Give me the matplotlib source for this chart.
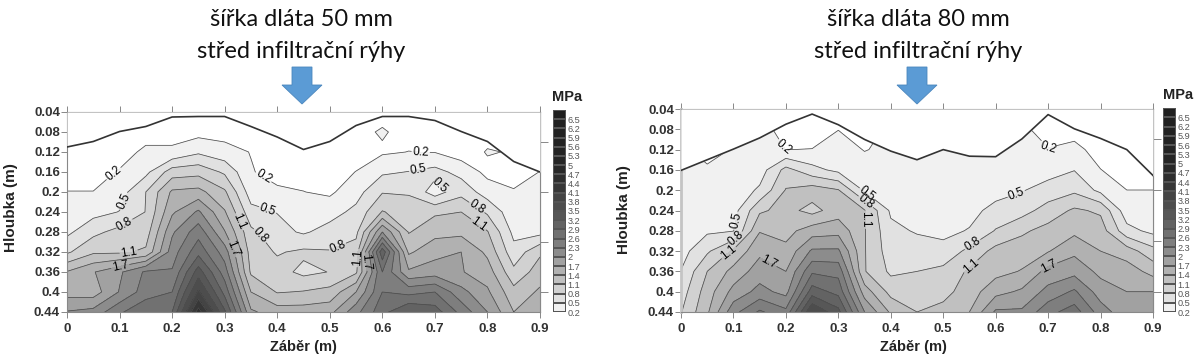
import numpy as np
import matplotlib
matplotlib.use('Agg')
import matplotlib.pyplot as plt
from matplotlib.colors import ListedColormap, BoundaryNorm
from matplotlib.patches import Polygon

# x = zaber (m), y = hloubka (m)
zaber = [0, 0.05, 0.1, 0.15, 0.2, 0.25, 0.3, 0.35, 0.4, 0.45, 0.5, 0.55, 0.6, 0.65, 0.7, 0.75, 0.8, 0.85, 0.9]
hloubka = [0.04, 0.08, 0.12, 0.16, 0.2, 0.24, 0.28, 0.32, 0.36, 0.4, 0.44]
x_ticks = [0, 0.1, 0.2, 0.3, 0.4, 0.5, 0.6, 0.7, 0.8, 0.9]
right_ticks = [0.1, 0.2, 0.3, 0.4]
level_values = [0.2, 0.5, 0.8, 1.1, 1.4, 1.7, 2, 2.3, 2.6, 2.9, 3.2, 3.5, 3.8, 4.1, 4.4, 4.7, 5, 5.3, 5.6, 5.9, 6.2, 6.5]
level_greys = ['#f1f1f1', '#e1e1e1', '#d1d1d1', '#c0c0c0', '#b1b1b1', '#a1a1a1', '#8c8c8c', '#7e7e7e', '#717171', '#636363',
               '#575757', '#4d4d4d', '#444444', '#373737', '#2e2e2e', '#282828', '#252525', '#232323', '#222222', '#212121', '#202020', '#1f1f1f']

# surface line
surface_50 = [0.11, 0.099, 0.079, 0.069, 0.05, 0.049, 0.049, 0.069, 0.09, 0.115, 0.099, 0.067, 0.049, 0.049, 0.057, 0.079, 0.099, 0.139, 0.16]
surface_80 = [0.161, 0.14, 0.119, 0.097, 0.07, 0.05, 0.071, 0.1, 0.123, 0.14, 0.12, 0.133, 0.134, 0.099, 0.051, 0.079, 0.098, 0.12, 0.171]

# one list per column of zaber, top to bottom
mpa_50 = [
    [.1, .1, .1, .1, .205, .32, .43, .75, 1.42, 1.58, 2.02],
    [.1, .1, .1, .1, .205, .4, .72, 1.05, 1.68, 1.55, 2.1],
    [.1, .1, .1, .22, .36, .51, .9, 1.05, 1.95, 2.02, 2.55],
    [.1, .1, .25, .42, .8, .81, .95, 1.15, 2.35, 2.45, 2.85],
    [.1, .1, .25, .95, 1.45, 1.65, 1.95, 2.15, 2.33, 2.6, 2.9],
    [.1, .1, .45, 1.0, 1.5, 2.05, 2.48, 2.8, 3.35, 3.85, 4.55],
    [.1, .1, .3, .75, 1.15, 1.43, 1.72, 2.15, 2.45, 2.8, 3.25],
    [.1, .1, .19, .22, .35, .6, .87, .97, 1.05, 1.4, 1.75],
    [.1, .1, .1, .1, .25, .49, .6, .77, .92, 1.08, 1.55],
    [.1, .1, .1, .1, .205, .3, .46, .86, .72, 1.12, 1.55],
    [.1, .1, .1, .1, .15, .38, .62, .82, .81, 1.2, 1.6],
    [.1, .12, .1, .205, .38, .58, .72, .95, 1.05, 1.7, 2.2],
    [.1, .23, .16, .45, .78, 1.12, 2.0, 3.1, 2.6, 2.6, 2.8],
    [.1, .1, .205, .51, .77, .95, 1.08, 1.35, 1.75, 2.5, 3.2],
    [.1, .1, .19, .6, .35, 1.05, 1.3, 1.6, 1.85, 2.6, 3.05],
    [.1, .1, .05, .4, .7, 1.1, 1.32, 1.7, 1.72, 2.1, 2.5],
    [.1, .1, .22, .12, .35, .75, 1.12, 1.33, 1.55, 1.75, 2.0],
    [.1, .1, .18, .1, .22, .3, .42, .6, .88, 1.2, 1.4],
    [.1, .1, .1, .205, .22, .28, .4, 1.05, 1.25, 1.45, 1.55],
]
mpa_80 = [
    [.25, .25, .25, .22, .24, .28, .32, .38, .51, .65, .78],
    [.1, .1, .1, .24, .3, .35, .45, .75, 1.1, 1.25, 1.35],
    [.25, .25, .22, .24, .3, .38, .49, 1.15, 1.5, 1.8, 2.2],
    [.25, .25, .3, .35, .55, 1.05, 1.38, 1.63, 1.85, 2.1, 2.65],
    [.1, .15, .198, .9, 1.12, 1.2, 1.3, 1.48, 1.7, 1.9, 2.38],
    [.1, .1, .205, .6, 1.25, 1.0, 1.55, 2.05, 2.55, 3.05, 3.8],
    [.1, .195, .3, .42, 1.12, 1.25, 1.6, 2.05, 2.5, 2.8, 3.3],
    [.1, .1, .19, .3, .45, 1.12, 1.12, 1.12, 1.12, 1.55, 2.0],
    [.25, .25, .25, .25, .3, .45, .58, .64, .74, 1.0, 1.35],
    [.25, .25, .25, .22, .28, .35, .47, .65, .8, .95, 1.1],
    [.25, .25, .25, .25, .28, .35, .42, .6, .88, 1.0, 1.2],
    [.25, .25, .25, .25, .3, .4, .52, .88, 1.15, 1.25, 1.4],
    [.25, .25, .25, .25, .38, .6, .82, 1.2, 1.3, 1.6, 2.05],
    [.25, .25, .22, .33, .48, .68, 1.05, 1.25, 1.42, 1.75, 2.05],
    [.1, .1, .21, .38, .62, .93, 1.2, 1.38, 1.8, 2.1, 2.5],
    [.1, .1, .27, .49, .74, 1.15, 1.33, 1.63, 1.9, 2.35, 2.75],
    [.1, .1, .1, .205, .42, 1.05, 1.25, 1.4, 1.62, 1.85, 2.15],
    [.1, .1, .1, .1, .201, .32, .6, 1.25, 1.55, 1.7, 1.8],
    [.1, .1, .1, .1, .201, .3, .42, .9, 1.3, 1.7, 1.75],
]

labels_50 = {
    0.2: [(.092, .167), (.37, .177), (.673, .12)],
    0.5: [(.109, .219), (.383, .232), (.669, .16), (.714, .182)],
    0.8: [(.109, .263), (.359, .294), (.517, .315), (.776, .237)],
    1.1: [(.118, .324), (.329, .259), (.555, .332), (.785, .262)],
    1.7: [(.101, .347), (.307, .317), (.572, .339)],
}
labels_80 = {
    0.2: [(.191, .118), (.698, .117)],
    0.5: [(.104, .26), (.353, .209), (.641, .212)],
    0.8: [(.101, .291), (.353, .222), (.556, .307)],
    1.1: [(.092, .324), (.351, .258), (.55, .347)],
    1.7: [(.169, .337), (.7, .348)],
}

W, H = 1200, 359
plt.rcParams['font.family'] = ['Liberation Sans', 'DejaVu Sans']
fig = plt.figure(figsize=(W / 100, H / 100), dpi=100)


def px_axes(x0, y0, x1, y1):
    return fig.add_axes([x0 / W, 1 - y1 / H, (x1 - x0) / W, (y1 - y0) / H])


levels = [0] + level_values + [7]
cmap = ListedColormap(['#ffffff'] + level_greys)
norm = BoundaryNorm(levels, cmap.N)


def panel(box, cbar_box, mpa, surface, labels, left_grey):
    ax = px_axes(*box)
    z = np.array(mpa).T
    # limits first: clabel works out the label angles from them
    ax.set_xlim(0, 0.9)
    ax.set_ylim(0.44, 0.04)
    ax.contourf(zaber, hloubka, z, levels=levels, cmap=cmap, norm=norm)
    plain = [v for v in level_values if v not in labels]
    ax.contour(zaber, hloubka, z, levels=plain, colors='#4d4d4d', linewidths=0.55)
    for lev, pos in labels.items():
        # one contour set per labelled level, so the label lands on the right line
        cs = ax.contour(zaber, hloubka, z, levels=[lev], colors='#4d4d4d', linewidths=0.55)
        ax.clabel(cs, manual=pos, fmt='%g', fontsize=8.5, inline=True, inline_spacing=1, colors='black')
    ax.fill_between(zaber, 0.04, surface, color='white', zorder=3, lw=0)
    ax.plot(zaber, surface, color='#333333', lw=1.2, zorder=4)
    ax.set_xlim(0, 0.9)
    ax.set_ylim(0.44, 0.04)
    ax.set_xticks(x_ticks)
    ax.set_xticklabels(['%g' % v for v in x_ticks], fontweight='bold', fontsize=9.5, color='#333333')
    ax.set_yticks(hloubka)
    ax.set_yticklabels(['%g' % v for v in hloubka], fontweight='bold', fontsize=9.5, color='#333333')
    ax.tick_params(axis='x', top=True, length=4, width=0.7, color='#888888', pad=4)
    ax.tick_params(axis='y', length=4, width=0.7, color='#888888', pad=1)
    sec = ax.secondary_yaxis('right')
    sec.set_yticks(right_ticks)
    sec.set_yticklabels([])
    sec.tick_params(length=6, width=0.7, color='#888888')
    sec.spines['right'].set_color('#888888')
    for s in ax.spines.values():
        s.set_color('#888888')
        s.set_linewidth(0.8)
    if left_grey:
        ax.spines['left'].set_color('#c4c4c4')
        ax.spines['left'].set_linewidth(2)
    ax.set_zorder(2)

    cax = px_axes(*cbar_box)
    edges = level_values + [6.8]
    cax.pcolormesh([0, 1], edges, np.array(level_values).reshape(-1, 1), cmap=ListedColormap(level_greys),
                   edgecolors='#555555', linewidth=0.25)
    cax.set_xlim(0, 1)
    cax.set_ylim(0.2, 6.8)
    cax.set_xticks([])
    cax.yaxis.tick_right()
    cax.set_yticks(level_values)
    cax.set_yticklabels(['%g' % v for v in level_values], fontsize=6.6, color='#555555')
    cax.tick_params(axis='y', length=0, pad=1)
    for s in cax.spines.values():
        s.set_visible(False)


panel((67, 112, 540, 312), (553, 110, 566, 312), mpa_50, surface_50, labels_50, False)
panel((681, 109, 1153, 312), (1163, 108, 1176, 312), mpa_80, surface_80, labels_80, True)

# texts and arrows, in pixels
over = fig.add_axes([0, 0, 1, 1], zorder=5)
over.set_xlim(0, W)
over.set_ylim(H, 0)
over.axis('off')
for cx, title in [(301, 'šířka dláta 50 mm'), (918, 'šířka dláta 80 mm')]:
    over.text(cx, 20, title, ha='center', va='center', fontsize=17, family='Lato', color='#111111')
    over.text(cx, 51, 'střed infiltrační rýhy', ha='center', va='center', fontsize=17, family='Lato', color='#111111')
    ac = cx + 1 if cx < 500 else cx - 1
    over.add_patch(Polygon([(ac - 10, 67), (ac + 10, 67), (ac + 10, 85), (ac + 20, 85), (ac, 104), (ac - 20, 85), (ac - 10, 85)],
                           closed=True, facecolor='#5b9bd5', edgecolor='#4a86bd', lw=0.6))
over.text(303, 347, 'Záběr (m)', ha='center', va='center', fontsize=10.5, fontweight='bold', color='#222222')
over.text(913, 347, 'Záběr (m)', ha='center', va='center', fontsize=10.5, fontweight='bold', color='#222222')
over.text(11, 208, 'Hloubka (m)', rotation=90, ha='center', va='center', fontsize=11, fontweight='bold', color='#222222')
over.text(624, 210, 'Hloubka (m)', rotation=90, ha='center', va='center', fontsize=11, fontweight='bold', color='#222222')
over.text(567, 97, 'MPa', ha='center', va='center', fontsize=10.5, fontweight='bold', color='#222222')
over.text(1178, 95, 'MPa', ha='center', va='center', fontsize=10.5, fontweight='bold', color='#222222')

fig.savefig('out.png', dpi=100)
